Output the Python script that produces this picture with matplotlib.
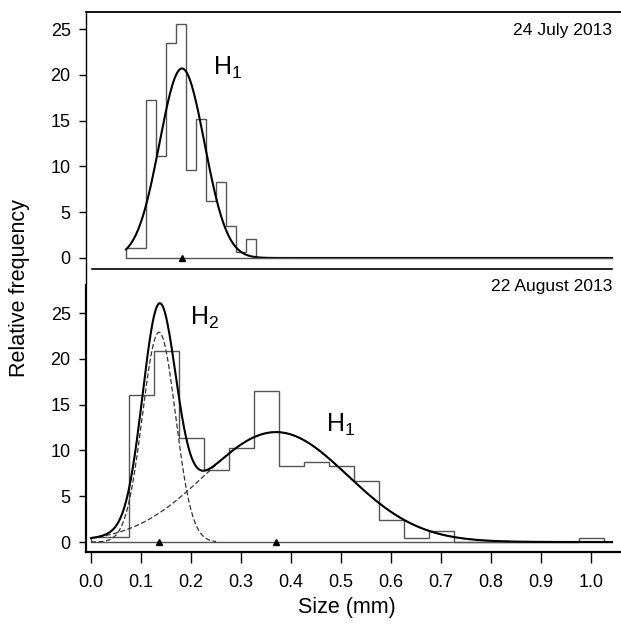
import matplotlib
matplotlib.use("Agg")
import matplotlib.pyplot as plt
import numpy as np

plt.rcParams['font.family'] = 'Liberation Sans'
plt.rcParams['mathtext.fontset'] = 'custom'
plt.rcParams['mathtext.rm'] = 'Liberation Sans'

# 24 July 2013 - size histogram (mm) and one fitted cohort
july_edges = [0.07, 0.09, 0.11, 0.13, 0.15, 0.17, 0.19, 0.21, 0.23, 0.25, 0.27, 0.29, 0.31, 0.33]
july_freq = [1.05, 1.05, 17.3, 11.1, 23.5, 25.5, 9.6, 15.2, 6.2, 8.25, 3.45, 0.65, 2.07]
july_h1 = {'mean': 0.182, 'sd': 0.045, 'peak': 20.7}

# 22 August 2013 - size histogram and two fitted cohorts
aug_edges = [0.0, 0.075, 0.125, 0.175, 0.225, 0.275, 0.325, 0.375, 0.425, 0.475,
             0.525, 0.575, 0.625, 0.675, 0.725, 0.975, 1.025]
aug_freq = [0.6, 16.1, 20.9, 11.4, 7.9, 10.25, 16.5, 8.25, 8.7, 8.25,
            6.7, 2.36, 0.44, 1.16, 0.0, 0.44]
aug_h2 = {'mean': 0.136, 'sd': 0.033, 'peak': 22.9}
aug_h1 = {'mean': 0.370, 'sd': 0.143, 'peak': 12.0}

yticks = [0, 5, 10, 15, 20, 25]
xticks = [0.0, 0.1, 0.2, 0.3, 0.4, 0.5, 0.6, 0.7, 0.8, 0.9, 1.0]


def gauss(x, comp):
    return comp['peak'] * np.exp(-0.5 * ((x - comp['mean']) / comp['sd']) ** 2)


fig = plt.figure(figsize=(6.21, 6.26), dpi=100)
ax1 = fig.add_axes([86/621, 1-283/626, 535/621, 271/626])
ax2 = fig.add_axes([86/621, 1-552/626, 535/621, 267/626])

hist_col = '#555555'

# top panel
ax1.stairs(july_freq, july_edges, baseline=0, color=hist_col, lw=1.0)
xs = np.linspace(0.07, 1.042, 400)
ax1.plot(xs, gauss(xs, july_h1), color='black', lw=1.5)
ax1.plot([0.07, 1.042], [0, 0], color=hist_col, lw=1.0)
ax1.plot([july_h1['mean']], [0], marker='^', color='black', ms=5, clip_on=False)
ax1.plot([0.002, 1.042], [-1.2, -1.2], color='black', lw=1.2)
ax1.text(0.2447, 19.98, r'$\mathregular{H_1}$', fontsize=18, ha='left', va='baseline')
ax1.set_xlim(-0.01, 1.06)
ax1.set_ylim(-2.73, 26.86)
ax1.set_yticks(yticks)
ax1.set_xticks([])
for s in ['right', 'bottom']:
    ax1.spines[s].set_visible(False)
ax1.spines['left'].set_linewidth(1.0)
ax1.spines['top'].set_linewidth(1.3)

# bottom panel
ax2.stairs(aug_freq, aug_edges, baseline=0, color=hist_col, lw=1.0)
xs2 = np.linspace(0.0, 1.042, 500)
ax2.plot([0.0, 1.042], [0, 0], color=hist_col, lw=1.0)
xd2 = np.linspace(0.0, 0.25, 200)
ax2.plot(xd2, gauss(xd2, aug_h2), color='#333333', lw=0.9, ls=(0, (4, 2)))
ax2.plot(xs2, gauss(xs2, aug_h1), color='#333333', lw=0.9, ls=(0, (4, 2)))
ax2.plot(xs2, gauss(xs2, aug_h2) + gauss(xs2, aug_h1), color='black', lw=1.5)
ax2.plot([aug_h2['mean'], aug_h1['mean']], [0, 0], ls='none', marker='^',
         color='black', ms=5, clip_on=False)
ax2.text(0.199, 23.7, r'$\mathregular{H_2}$', fontsize=18, ha='left', va='baseline')
ax2.text(0.469, 12.04, r'$\mathregular{H_1}$', fontsize=18, ha='left', va='baseline')
ax2.set_xlim(-0.01, 1.06)
ax2.set_ylim(-1.09, 28.06)
ax2.set_yticks(yticks)
ax2.set_xticks(xticks)
ax2.set_xticklabels(['%.1f' % t for t in xticks])
for s in ['right', 'top']:
    ax2.spines[s].set_visible(False)
ax2.spines['left'].set_linewidth(1.6)
ax2.spines['bottom'].set_linewidth(1.6)

for ax in (ax1, ax2):
    ax.tick_params(axis='y', direction='out', length=5, width=1, pad=6, labelsize=13)
ax2.tick_params(axis='x', direction='out', length=8, width=1, pad=8, labelsize=13)

fig.text(612/621, 1-31/626, '24 July 2013', ha='right', va='center', fontsize=12.6)
fig.text(612/621, 1-287/626, '22 August 2013', ha='right', va='center', fontsize=12.6)
fig.text(20/621, 1-288/626, 'Relative frequency', rotation=90, ha='center', va='center', fontsize=15.5)
fig.text(347/621, 1-607/626, 'Size (mm)', ha='center', va='center', fontsize=15.5)

fig.savefig('out.png', dpi=100)
